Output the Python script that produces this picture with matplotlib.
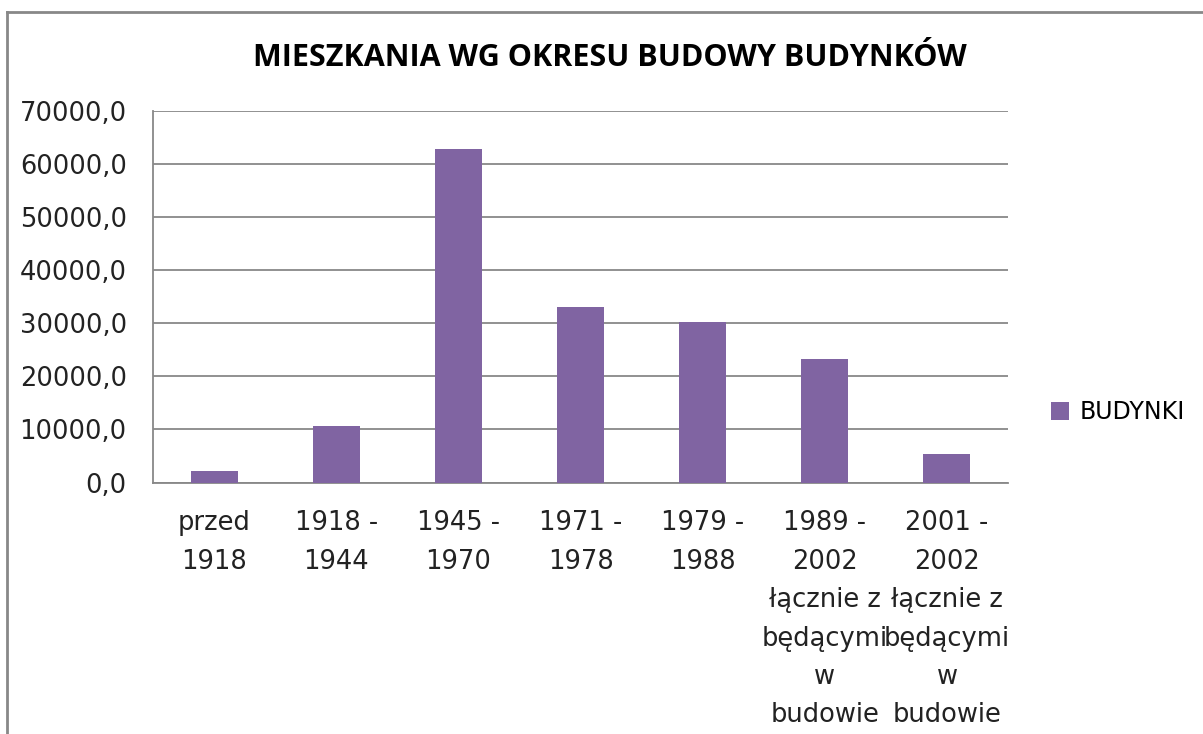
import numpy as np
import matplotlib
matplotlib.use("Agg")
import matplotlib.pyplot as plt
from matplotlib.lines import Line2D

# dane
okresy = [
    "przed\n1918",
    "1918 -\n1944",
    "1945 -\n1970",
    "1971 -\n1978",
    "1979 -\n1988",
    "1989 -\n2002\nłącznie z\nbędącymi\nw\nbudowie",
    "2001 -\n2002\nłącznie z\nbędącymi\nw\nbudowie",
]
budynki = [2200, 10680, 62800, 33150, 30200, 23240, 5400]
y_ticks = [0, 10000, 20000, 30000, 40000, 50000, 60000, 70000]
y_tick_labels = ["0,0", "10000,0", "20000,0", "30000,0", "40000,0",
                 "50000,0", "60000,0", "70000,0"]

kolor = "#8064A2"
szary = "#888888"


def main():
    fig = plt.figure(figsize=(12.03, 7.34), dpi=100)
    ax = fig.add_axes([0.1272, 0.3426, 0.7107, 0.5062])

    x = np.arange(len(okresy))
    ax.bar(x, budynki, width=0.385, color=kolor, label="BUDYNKI", zorder=3)

    ax.set_xlim(-0.5, len(okresy) - 0.5)
    ax.set_ylim(0, 70000)
    ax.set_yticks(y_ticks)
    ax.set_yticklabels(y_tick_labels, fontsize=18.5, color="#222222")
    ax.set_xticks(x)
    ax.set_xticklabels(okresy, fontsize=18.5, color="#222222", linespacing=1.62)
    ax.tick_params(axis="both", length=0)
    ax.tick_params(axis="y", pad=19)
    ax.tick_params(axis="x", pad=20)

    ax.grid(axis="y", color=szary, linewidth=1.3, zorder=0)
    for s in ["top", "right"]:
        ax.spines[s].set_visible(False)
    for s in ["left", "bottom"]:
        ax.spines[s].set_color(szary)
        ax.spines[s].set_linewidth(1.3)

    fig.text(0.507, 0.921, "MIESZKANIA WG OKRESU BUDOWY BUDYNKÓW",
             ha="center", va="center", fontsize=22, fontweight="bold",
             family=["Open Sans", "DejaVu Sans"])

    ax.legend(loc="center left", bbox_to_anchor=(1.036, 0.19), frameon=False,
              fontsize=17, handlelength=0.8, handleheight=0.8,
              handletextpad=0.45, borderpad=0)

    # ramka wykresu (lewa i górna krawędź)
    fig.add_artist(Line2D([7 / 1203, 7 / 1203], [0, 1 - 12 / 734],
                          transform=fig.transFigure, color=szary, linewidth=2))
    fig.add_artist(Line2D([7 / 1203, 1], [1 - 12 / 734, 1 - 12 / 734],
                          transform=fig.transFigure, color=szary, linewidth=2))

    fig.savefig("out.png", dpi=100)


if __name__ == "__main__":
    main()
